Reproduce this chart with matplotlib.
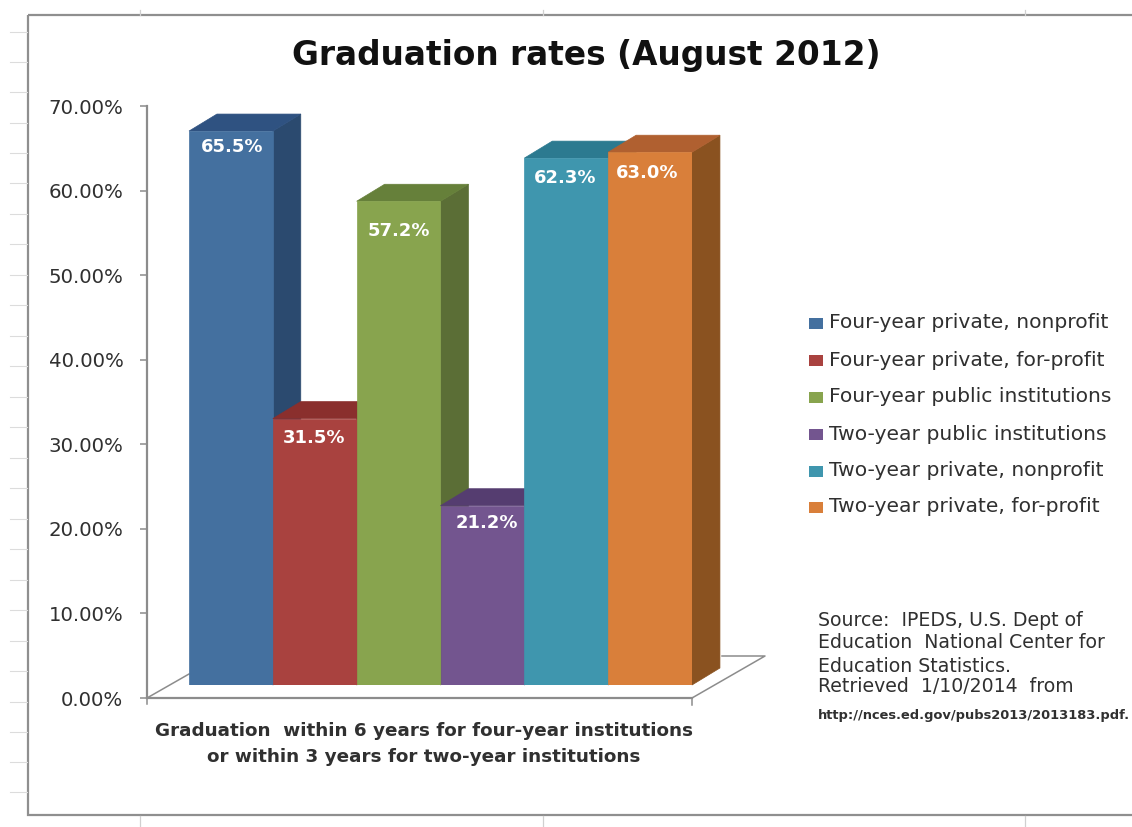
import matplotlib
matplotlib.use("Agg")
import matplotlib.pyplot as plt
from matplotlib.lines import Line2D
from matplotlib.patches import Polygon, Rectangle

categories = ["Four-year private, nonprofit", "Four-year private, for-profit",
              "Four-year public institutions", "Two-year public institutions",
              "Two-year private, nonprofit", "Two-year private, for-profit"]
rates = [65.5, 31.5, 57.2, 21.2, 62.3, 63.0]
rate_labels = ["65.5%", "31.5%", "57.2%", "21.2%", "62.3%", "63.0%"]
y_ticks = [0, 10, 20, 30, 40, 50, 60, 70]
y_tick_labels = ["0.00%", "10.00%", "20.00%", "30.00%", "40.00%", "50.00%", "60.00%", "70.00%"]

front_colors = ["#44709f", "#a9423f", "#88a44e", "#73558f", "#3f96ae", "#d97f3a"]
top_colors = ["#2f5281", "#8a2f2d", "#66803a", "#553d70", "#2c7a90", "#b06030"]
side_colors = ["#2b4a6f", "#7c2d2b", "#5b6e36", "#4d3866", "#2b6e82", "#8a5220"]

# label nudges from the bar top centre, in pixels
label_dx = [1, -1, 0, 4, -1, -3]
label_dy = [16, 19, 30, 17, 20, 21]

W, H = 1132, 827
TEXT = "#303030"
GREY = "#8c8c8c"

fig = plt.figure(figsize=(W / 100, H / 100), dpi=100, facecolor="white")

def px_axes(x0, y0, x1, y1, **kw):
    # axes from pixel corners, y counted from the top
    return fig.add_axes([x0 / W, 1 - y1 / H, (x1 - x0) / W, (y1 - y0) / H], **kw)

# sheet layer, in pixels
bg = px_axes(0, 0, W, H)
bg.set_xlim(0, W)
bg.set_ylim(H, 0)
bg.axis("off")
bg.add_patch(Rectangle((28, 15), 1200, 800, fill=False, ec="#8f8f8f", lw=1.6))
for y in [32, 62, 92, 123, 153, 183, 214, 244, 275, 305, 336, 366, 397, 427, 458,
          488, 519, 549, 580, 610, 641, 671, 702, 732, 762, 792]:
    bg.add_line(Line2D([10, 27], [y, y], color="#dcdcdc", lw=0.8))
for x, y0, y1 in [(140, 10, 15), (140, 816, 827), (543, 816, 827), (1025, 816, 827),
                  (543, 10, 15), (1025, 10, 15)]:
    bg.add_line(Line2D([x, x], [y0, y1], color="#d0d0d0", lw=0.9))

# floor of the 3d box
floor_x = [147, 189, 722, 765, 692, 147]
floor_y = [698, 674, 656, 656, 698, 698]
bg.add_line(Line2D(floor_x[:2], floor_y[:2], color=GREY, lw=1.1))
bg.add_line(Line2D(floor_x[2:5], floor_y[2:5], color=GREY, lw=1.1))
bg.add_line(Line2D(floor_x[4:], floor_y[4:], color=GREY, lw=1.6))
bg.add_line(Line2D([147, 147], [698, 704], color=GREY, lw=1.1))
bg.add_line(Line2D([692, 692], [698, 705], color=GREY, lw=1.1))

# value axis
ax = px_axes(147, 106, 400, 698)
ax.set_ylim(0, 70)
ax.patch.set_alpha(0)
ax.set_xticks([])
ax.set_yticks(y_ticks)
ax.set_yticklabels(y_tick_labels, fontsize=14.2, color=TEXT)
ax.tick_params(axis="y", length=5, width=1.1, color=GREY, pad=12)
for s in ["top", "right", "bottom"]:
    ax.spines[s].set_visible(False)
ax.spines["left"].set_color(GREY)
ax.spines["left"].set_linewidth(1.6)

# bars sit on the front plane, shifted from the axis
bars = px_axes(189, 93, 692, 685)
bars.set_ylim(0, 70)
bars.set_xlim(-0.5, 5.5)
bars.axis("off")
depth_x = 28 / 84
depth_y = 17 * 70 / 592
px_x = 1 / 84
px_y = 70 / 592
for i, v in enumerate(rates):
    l, r = i - 0.5, i + 0.5
    bars.add_patch(Polygon([(r, 0), (r + depth_x, depth_y), (r + depth_x, v + depth_y), (r, v)],
                           fc=side_colors[i], ec=side_colors[i], lw=0.5, zorder=2 + i, clip_on=False))
    bars.add_patch(Polygon([(l, v), (l + depth_x, v + depth_y), (r + depth_x, v + depth_y), (r, v)],
                           fc=top_colors[i], ec=top_colors[i], lw=0.5, zorder=2 + i, clip_on=False))
    bars.bar(i, v, width=1.0, color=front_colors[i], ec=front_colors[i], lw=0.5, zorder=2.5 + i)
    bars.text(i + label_dx[i] * px_x, v - label_dy[i] * px_y, rate_labels[i], ha="center", va="center",
              color="white", fontsize=13, fontweight="bold", zorder=10)

fig.text(586 / W, 1 - 55 / H, "Graduation rates (August 2012)", ha="center", va="center",
         fontsize=23.6, fontweight="bold", color="#111111")
fig.text(424 / W, 1 - 744 / H, "Graduation  within 6 years for four-year institutions\nor within 3 years for two-year institutions",
         ha="center", va="center", fontsize=13.2, fontweight="bold", color=TEXT, linespacing=1.55)

# legend rows
legend_y = [323, 360, 397, 434, 471, 507]
for name, c, y in zip(categories, front_colors, legend_y):
    bg.add_patch(Rectangle((809, y - 5), 14, 11, fc=c, ec="none"))
    bg.text(829, y, name, va="center", fontsize=14.6, color=TEXT)

source_lines = ["Source:  IPEDS, U.S. Dept of", "Education  National Center for",
                "Education Statistics.", "Retrieved  1/10/2014  from"]
for line, y in zip(source_lines, [620, 643, 666, 687]):
    bg.text(818, y, line, va="center", fontsize=13.6, color=TEXT)
bg.text(818, 716, "http://nces.ed.gov/pubs2013/2013183.pdf.", va="center", fontsize=9.4,
        fontweight="bold", color=TEXT)

fig.savefig("out.png", dpi=100)
